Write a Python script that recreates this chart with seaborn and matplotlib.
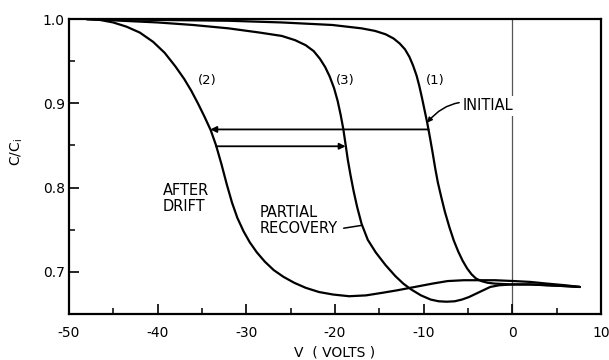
import matplotlib
matplotlib.use("Agg")
import matplotlib.pyplot as plt
import seaborn as sns
import pandas as pd

# C/Ci versus gate voltage for the three sweeps
v_initial = [-48, -40, -32, -26, -20.3, -17, -15.5, -14.3, -13.4, -12.7, -12.1, -11.6,
             -11.2, -10.8, -10.5, -10.2, -9.9, -9.6, -9.3, -9.0, -8.7, -8.4, -8.0, -7.6,
             -7.1, -6.6, -6.1, -5.6, -5.1, -4.6, -4.1, -3.5, -2.8, -2, 0, 2, 4, 6, 7.6]
c_initial = [1.0, 0.999, 0.998, 0.996, 0.993, 0.989, 0.986, 0.982, 0.977, 0.971, 0.964,
             0.955, 0.945, 0.933, 0.921, 0.907, 0.892, 0.877, 0.860, 0.842, 0.823, 0.806,
             0.788, 0.771, 0.753, 0.737, 0.724, 0.713, 0.704, 0.697, 0.692, 0.689, 0.687,
             0.686, 0.685, 0.685, 0.684, 0.683, 0.682]

v_drift = [-48, -46.5, -45, -43.5, -42, -40.5, -39.2, -38, -37, -36.2, -35.4, -34.7, -34.0,
           -33.4, -32.8, -32.2, -31.6, -31.0, -30.3, -29.6, -28.8, -27.9, -26.9, -25.8,
           -24.6, -23.3, -21.8, -20.2, -18.4, -16.5, -14.7, -13, -11, -9, -7.3, -5.5, -3.9,
           -2, 0.2, 2, 3.9, 6, 7.6]
c_drift = [1.0, 0.999, 0.996, 0.991, 0.984, 0.973, 0.960, 0.944, 0.929, 0.915, 0.899,
           0.884, 0.868, 0.850, 0.828, 0.804, 0.782, 0.764, 0.748, 0.735, 0.723, 0.712,
           0.702, 0.694, 0.687, 0.681, 0.676, 0.673, 0.671, 0.672, 0.675, 0.678, 0.682,
           0.686, 0.689, 0.690, 0.690, 0.690, 0.689, 0.688, 0.686, 0.684, 0.682]

v_recovery = [-48, -44, -40, -36, -32, -28.5, -26, -24.5, -23.3, -22.4, -21.7, -21.1,
              -20.6, -20.1, -19.7, -19.35, -19.05, -18.8, -18.55, -18.25, -17.9, -17.5,
              -17.0, -16.3, -15.4, -14.3, -13.2, -12.3, -11.4, -10.3, -9.2, -8.3, -7.4,
              -6.5, -5.7, -4.9, -4.1, -3.3, -2.5, -1.5, 0, 2, 4, 6, 7.6]
c_recovery = [1.0, 0.998, 0.996, 0.993, 0.989, 0.984, 0.980, 0.975, 0.969, 0.962, 0.953,
              0.943, 0.932, 0.918, 0.903, 0.886, 0.869, 0.851, 0.833, 0.815, 0.796, 0.777,
              0.757, 0.738, 0.723, 0.708, 0.695, 0.686, 0.679, 0.672, 0.667, 0.665, 0.6645,
              0.665, 0.667, 0.670, 0.674, 0.678, 0.682, 0.684, 0.685, 0.685, 0.684, 0.683,
              0.682]

curve_names = ["(1)", "(2)", "(3)"]
x_ticks = [-50, -40, -30, -20, -10, 0, 10]
x_tick_labels = ["-50", "-40", "-30", "-20", "-10", "0", "10"]
y_ticks = [0.7, 0.8, 0.9, 1.0]
y_tick_labels = ["0.7", "0.8", "0.9", "1.0"]

# voltage shift arrows: (C/Ci level, start V, end V)
shift_left = (0.869, -9.45, -34.05)
shift_right = (0.849, -33.4, -18.8)

frames = []
for name, v, c in zip(curve_names, [v_initial, v_drift, v_recovery],
                      [c_initial, c_drift, c_recovery]):
    frames.append(pd.DataFrame({"V": v, "C": c, "curve": name}))
df = pd.concat(frames, ignore_index=True)

sns.set_style("ticks")
plt.rcParams["font.family"] = ["DejaVu Sans"]
plt.rcParams["text.color"] = "black"
plt.rcParams["axes.labelcolor"] = "black"
plt.rcParams["xtick.color"] = "black"
plt.rcParams["ytick.color"] = "black"

fig = plt.figure(figsize=(6.09, 3.60), dpi=100)
ax = fig.add_axes([0.113, 0.128, 0.874, 0.819])

sns.lineplot(data=df, x="V", y="C", hue="curve", palette=["black"] * 3,
             sort=False, legend=False, linewidth=1.6, ax=ax, estimator=None)

ax.axvline(0, color="#555555", linewidth=0.9, zorder=0)

ax.set_xlim(-49.8, 9.8)
ax.set_ylim(0.65, 1.0)
ax.set_xticks(x_ticks)
ax.set_xticklabels(x_tick_labels)
ax.set_xticks([-45, -35, -25, -15, -5, 5], minor=True)
ax.set_yticks(y_ticks)
ax.set_yticklabels(y_tick_labels)
ax.set_yticks([0.75, 0.85, 0.95], minor=True)
ax.tick_params(axis="both", which="major", direction="in", length=7, width=1.2,
               labelsize=10, colors="black")
ax.tick_params(axis="x", which="major", pad=9)
ax.tick_params(axis="y", which="major", pad=3)
ax.tick_params(axis="both", which="minor", direction="in", length=4, width=1.1,
               colors="black")
for side in ["left", "bottom", "right", "top"]:
    ax.spines[side].set_visible(True)
    ax.spines[side].set_linewidth(1.6)
    ax.spines[side].set_color("black")

ax.set_xlabel("V  ( VOLTS )", fontsize=10, labelpad=4, color="black")
ax.set_ylabel("C/C$_\\mathregular{i}$", fontsize=10, color="black")
ax.yaxis.set_label_coords(-0.082, 0.55)

arrow_kw = dict(arrowstyle="-|>", color="black", lw=1.3, mutation_scale=9,
                shrinkA=0, shrinkB=0)
ax.annotate("", xy=(shift_left[2], shift_left[0]), xytext=(shift_left[1], shift_left[0]),
            arrowprops=arrow_kw)
ax.annotate("", xy=(shift_right[2], shift_right[0]), xytext=(shift_right[1], shift_right[0]),
            arrowprops=arrow_kw)

# curve numbers
ax.text(-35.4, 0.927, "(2)", fontsize=9.5, ha="left", va="center", color="black")
ax.text(-19.9, 0.927, "(3)", fontsize=9.5, ha="left", va="center", color="black")
ax.text(-9.8, 0.927, "(1)", fontsize=9.5, ha="left", va="center", color="black")

# curve descriptions with leaders
ax.annotate("INITIAL", xy=(-9.6, 0.877), xytext=(-5.6, 0.897), fontsize=10.5,
            ha="left", va="center", color="black",
            bbox=dict(boxstyle="square,pad=0.15", facecolor="white", edgecolor="none"),
            arrowprops=dict(arrowstyle="-|>", color="black", lw=1.1, mutation_scale=7,
                            shrinkA=1, shrinkB=0, connectionstyle="arc3,rad=0.35"))
ax.text(-39.4, 0.787, "AFTER\nDRIFT", fontsize=10.5, ha="left", va="center",
        linespacing=1.1, color="black")
ax.annotate("PARTIAL\nRECOVERY", xy=(-17.05, 0.755), xytext=(-28.5, 0.761), fontsize=10.5,
            ha="left", va="center", linespacing=1.1, color="black",
            arrowprops=dict(arrowstyle="-", color="black", lw=1.1, shrinkA=2, shrinkB=0,
                            relpos=(1.0, 0.22)))

fig.savefig("out.png", dpi=100)
